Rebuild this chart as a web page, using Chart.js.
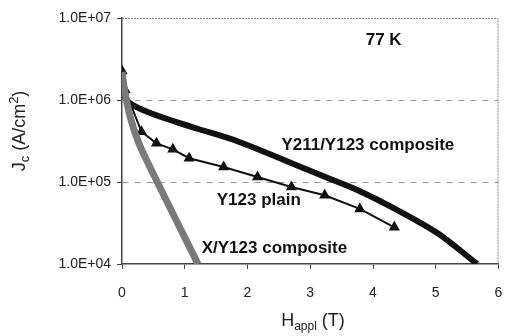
<!DOCTYPE html>
<html>
<head>
<meta charset="utf-8">
<script src="https://cdn.jsdelivr.net/npm/chart.js@4/dist/chart.umd.min.js"></script>
<style>
  html, body { margin: 0; padding: 0; background: #fff; }
  #wrap { width: 505px; height: 336px; }
</style>
</head>
<body>
<div id="wrap"><canvas id="c"></canvas></div>
<script>
// field in T, Jc in A/cm2
const compositeX = [0, 0.07, 0.34, 0.86, 1.23, 1.86, 2.97, 3.28, 3.75, 4.33, 5.02, 5.66];
const compositeY = [1.7e6, 1.0e6, 7.5e5, 5.4e5, 4.4e5, 3.1e5, 1.4e5, 1.12e5, 8.0e4, 4.8e4, 2.4e4, 1.0e4];

const plainX = [0, 0.05, 0.31, 0.55, 0.81, 1.07, 1.62, 2.16, 2.70, 3.23, 3.79, 4.34];
const plainY = [2.26e6, 1.32e6, 4.1e5, 2.96e5, 2.5e5, 1.95e5, 1.52e5, 1.15e5, 8.7e4, 6.9e4, 4.7e4, 2.8e4];

const xCompX = [0, 0.05, 0.15, 0.31, 1.21];
const xCompY = [2.2e6, 1.2e6, 5.5e5, 2.5e5, 1.0e4];

const xTicks = [0, 1, 2, 3, 4, 5, 6];
const yTicks = [1e4, 1e5, 1e6, 1e7];

const labels = [
  { text: "77 K", x: 4.17, y: 5.4e6, font: "bold 17px 'Liberation Sans'", align: "center" },
  { text: "Y211/Y123 composite", x: 2.54, y: 2.8e5, font: "bold 17px 'Liberation Sans'", align: "left" },
  { text: "Y123 plain", x: 1.51, y: 6.0e4, font: "bold 17px 'Liberation Sans'", align: "left" },
  { text: "X/Y123 composite", x: 1.27, y: 1.57e4, font: "bold 17px 'Liberation Sans'", align: "left" }
];

function pts(xs, ys) {
  return xs.map((x, i) => ({ x: x, y: ys[i] }));
}

const decorations = {
  id: 'decorations',
  afterDraw(chart) {
    const ctx = chart.ctx;
    const a = chart.chartArea;
    const sx = chart.scales.x, sy = chart.scales.y;
    ctx.save();
    // top and right frame
    ctx.strokeStyle = '#888';
    ctx.lineWidth = 1;
    ctx.setLineDash([2, 1]);
    ctx.beginPath();
    ctx.moveTo(a.left, a.top + 0.5);
    ctx.lineTo(a.right - 0.5, a.top + 0.5);
    ctx.lineTo(a.right - 0.5, a.bottom);
    ctx.stroke();
    ctx.setLineDash([]);

    // curve labels
    ctx.fillStyle = '#111';
    ctx.textBaseline = 'middle';
    labels.forEach(l => {
      ctx.font = l.font;
      ctx.textAlign = l.align;
      ctx.fillText(l.text, sx.getPixelForValue(l.x), sy.getPixelForValue(l.y));
    });

    // y title: J_c (A/cm^2)
    ctx.translate(20, 131);
    ctx.rotate(-Math.PI / 2);
    ctx.textAlign = 'left';
    ctx.textBaseline = 'middle';
    ctx.fillStyle = '#222';
    const big = "18px 'Liberation Sans'", small = "13px 'Liberation Sans'";
    ctx.font = big;
    const wJ = ctx.measureText('J').width;
    ctx.font = small;
    const wc = ctx.measureText('c').width;
    ctx.font = big;
    const wA = ctx.measureText(' (A/cm').width;
    ctx.font = small;
    const w2 = ctx.measureText('2').width;
    ctx.font = big;
    const wE = ctx.measureText(')').width;
    let x0 = -(wJ + wc + wA + w2 + wE) / 2;
    ctx.font = big; ctx.fillText('J', x0, 0); x0 += wJ;
    ctx.font = small; ctx.fillText('c', x0, 5); x0 += wc;
    ctx.font = big; ctx.fillText(' (A/cm', x0, 0); x0 += wA;
    ctx.font = small; ctx.fillText('2', x0, -6); x0 += w2;
    ctx.font = big; ctx.fillText(')', x0, 0);
    ctx.restore();

    // x title: H_appl (T)
    ctx.save();
    ctx.fillStyle = '#222';
    ctx.textBaseline = 'middle';
    ctx.textAlign = 'left';
    const bigX = "18px 'Liberation Sans'", smallX = "12px 'Liberation Sans'";
    ctx.font = bigX;
    const wH = ctx.measureText('H').width;
    ctx.font = smallX;
    const wa = ctx.measureText('appl').width;
    ctx.font = bigX;
    const wT = ctx.measureText(' (T)').width;
    let x1 = 313 - (wH + wa + wT) / 2;
    const yT = 321;
    ctx.font = bigX; ctx.fillText('H', x1, yT); x1 += wH;
    ctx.font = smallX; ctx.fillText('appl', x1, yT + 6); x1 += wa;
    ctx.font = bigX; ctx.fillText(' (T)', x1, yT);
    ctx.restore();
  }
};

new Chart(document.getElementById('c'), {
  type: 'scatter',
  data: {
    datasets: [
      {
        label: 'X/Y123 composite',
        data: pts(xCompX, xCompY),
        showLine: true,
        borderColor: '#7a7a7a',
        borderWidth: 7,
        pointRadius: 0,
        tension: 0.2
      },
      {
        label: 'Y211/Y123 composite',
        data: pts(compositeX, compositeY),
        showLine: true,
        borderColor: '#111',
        borderWidth: 6,
        pointRadius: 0,
        tension: 0.3
      },
      {
        label: 'Y123 plain',
        data: pts(plainX, plainY),
        showLine: true,
        borderColor: '#111',
        backgroundColor: '#111',
        borderWidth: 2,
        pointStyle: 'triangle',
        pointRadius: 4.5,
        pointHoverRadius: 4.5
      }
    ]
  },
  options: {
    responsive: true,
    maintainAspectRatio: false,
    animation: false,
    layout: { padding: { left: 0, right: 1, top: 18, bottom: 0 } },
    plugins: {
      legend: { display: false },
      tooltip: { enabled: false }
    },
    scales: {
      x: {
        type: 'linear',
        min: 0,
        max: 6,
        afterBuildTicks: s => { s.ticks = xTicks.map(v => ({ value: v })); },
        afterFit: s => { s.height = 72; s.paddingRight = 0; s.paddingLeft = 0; },
        grid: { display: true, drawOnChartArea: false, tickLength: 5, color: '#444' },
        border: { color: '#444', width: 1.5 },
        ticks: {
          color: '#222',
          padding: 16,
          font: { family: 'Liberation Sans', size: 14 },
          maxRotation: 0
        }
      },
      y: {
        type: 'logarithmic',
        min: 1e4,
        max: 1e7,
        afterBuildTicks: s => { s.ticks = yTicks.map(v => ({ value: v })); },
        afterFit: s => { s.width = 122; },
        grid: {
          color: ctx => (ctx.tick && (ctx.tick.value === 1e5 || ctx.tick.value === 1e6)) ? '#999' : 'rgba(0,0,0,0)',
          tickColor: '#444',
          tickLength: 5
        },
        border: { color: '#444', width: 1.5, dash: [6, 6] },
        ticks: {
          color: '#222',
          padding: 6,
          font: { family: 'Liberation Sans', size: 14 },
          callback: v => {
            const e = Math.round(Math.log10(v));
            return '1.0E+' + (e < 10 ? '0' + e : e);
          }
        }
      }
    }
  },
  plugins: [decorations]
});
</script>
</body>
</html>
